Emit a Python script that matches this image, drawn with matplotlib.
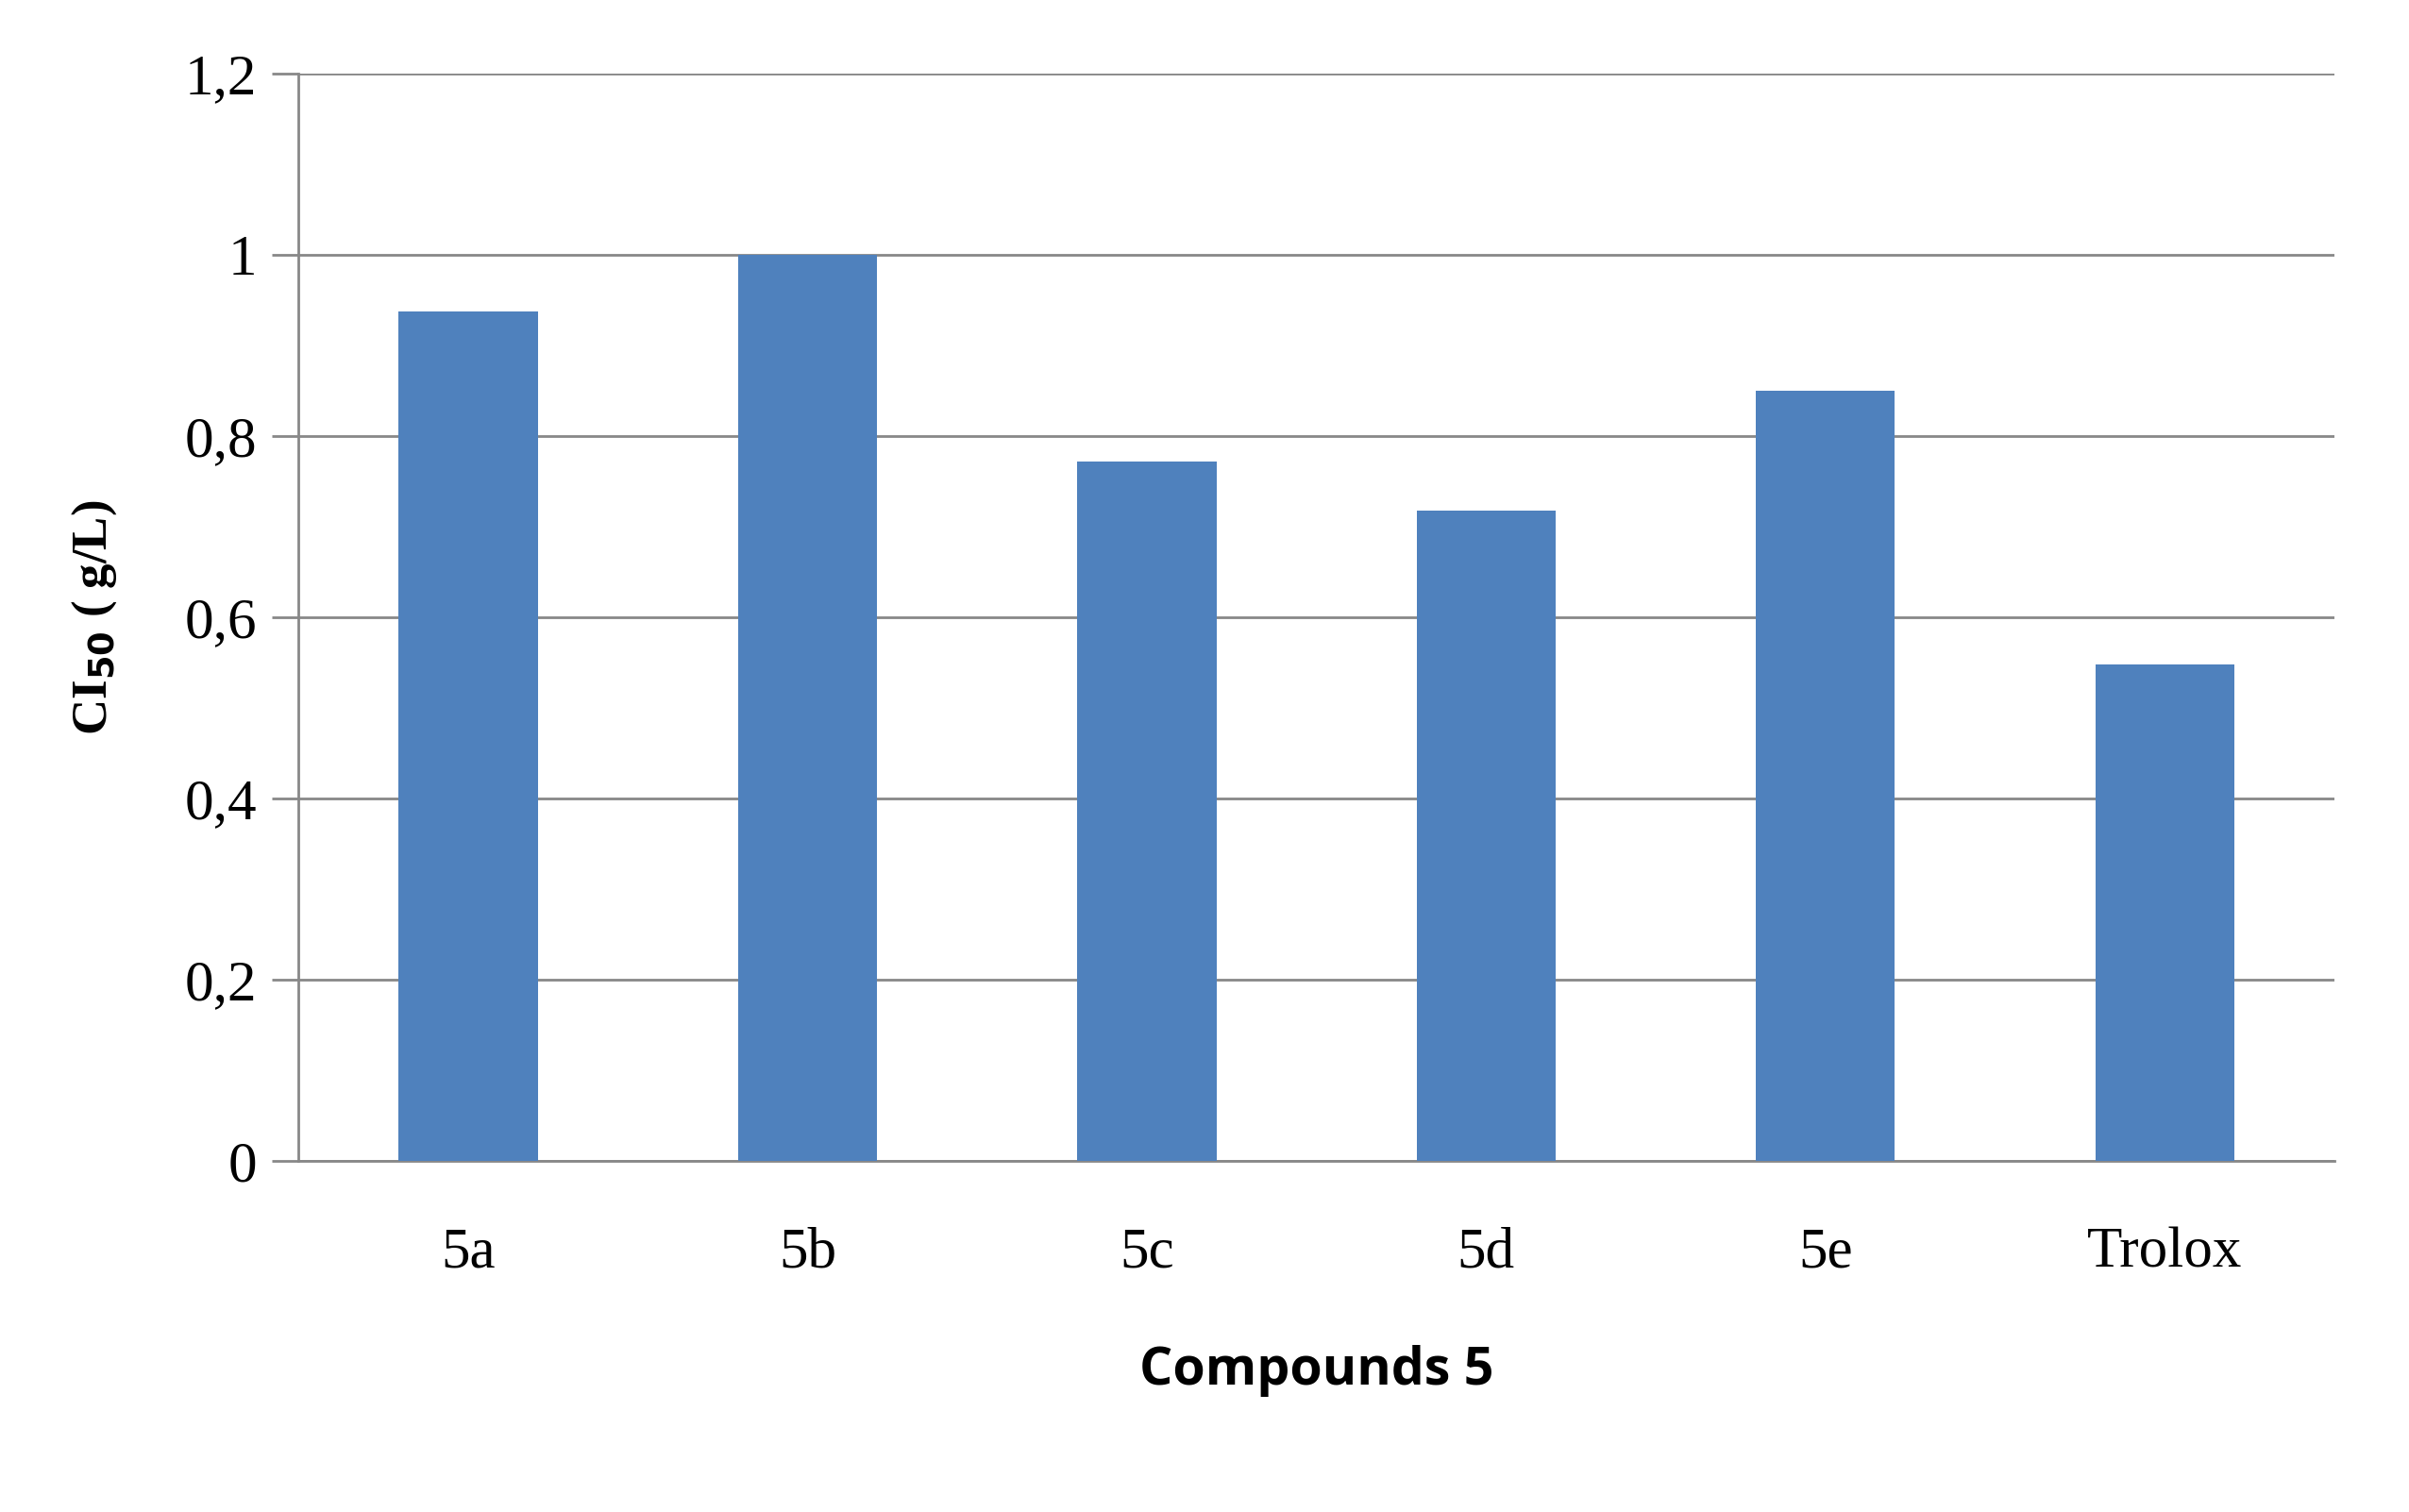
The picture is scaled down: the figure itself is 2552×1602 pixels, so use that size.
import matplotlib
matplotlib.use("Agg")
import matplotlib.pyplot as plt

categories = ["5a", "5b", "5c", "5d", "5e", "Trolox"]
values = [0.937, 1.0, 0.772, 0.718, 0.850, 0.548]
yticks = [0, 0.2, 0.4, 0.6, 0.8, 1.0, 1.2]
ytick_labels = ["0", "0,2", "0,4", "0,6", "0,8", "1", "1,2"]

fig = plt.figure(figsize=(25.52, 16.02), dpi=100)
ax = fig.add_axes([0.124, 0.232, 0.845, 0.7195])
ax.bar(range(len(categories)), values, width=0.41, color="#4F81BD", zorder=3)
ax.set_xlim(-0.5, len(categories) - 0.5)
ax.set_ylim(0, 1.2)
ax.set_yticks(yticks)
ax.set_yticklabels(ytick_labels, fontfamily="Liberation Serif", fontsize=44)
ax.set_xticks(range(len(categories)))
ax.set_xticklabels(categories, fontfamily="Liberation Serif", fontsize=44)
ax.tick_params(axis="x", length=0, pad=50)
ax.tick_params(axis="y", length=20, width=2, color="#888888", pad=12)
ax.grid(axis="y", color="#888888", linewidth=2, zorder=0)
for s in ["top", "right"]:
    ax.spines[s].set_visible(False)
for s in ["left", "bottom"]:
    ax.spines[s].set_color("#888888")
    ax.spines[s].set_linewidth(2)
ax.set_xlabel("Compounds 5", fontfamily="Open Sans", fontweight="bold", fontsize=40, labelpad=50)
ax.set_ylabel(r"CI$_{\mathbf{50}}$ ( g/L)", fontfamily="Liberation Serif", fontweight="bold", fontsize=38, labelpad=50)
plt.rcParams["mathtext.fontset"] = "custom"
fig.savefig("out.png", dpi=100, facecolor="white")
